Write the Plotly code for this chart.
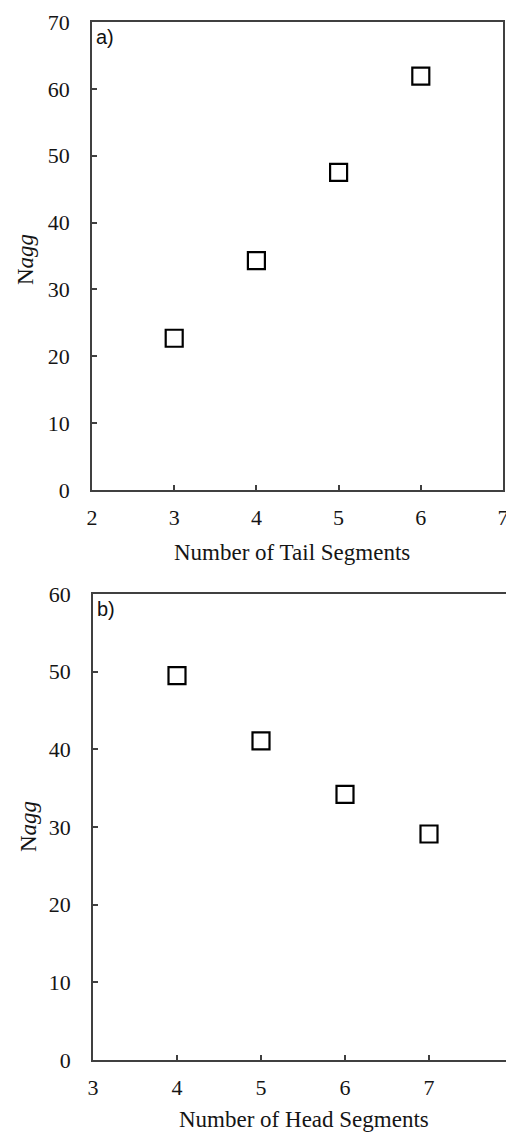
import plotly.graph_objects as go

# Panel a data
tail_segments = [3, 4, 5, 6]
nagg_tail = [22.7, 34.3, 47.5, 61.9]
# Panel b data
head_segments = [4, 5, 6, 7]
nagg_head = [49.5, 41.1, 34.2, 29.1]

xticks_a = [2, 3, 4, 5, 6, 7]
yticks_a = [0, 10, 20, 30, 40, 50, 60, 70]
xticks_b = [3, 4, 5, 6, 7, 8]
yticks_b = [0, 10, 20, 30, 40, 50, 60]

# page has an 8px body margin; size the figure to fit the 514x1132 window
OFF = 8
W, H = 514 - OFF, 1132 - OFF
serif = "Liberation Serif, Times New Roman, serif"
axcol = "#404040"
txtcol = "#151515"

marker = dict(symbol="square-open", size=17, color="black", line=dict(width=2.2, color="black"))

fig = go.Figure()
fig.add_trace(go.Scatter(x=tail_segments, y=nagg_tail, mode="markers", marker=marker,
                         xaxis="x", yaxis="y", showlegend=False))
fig.add_trace(go.Scatter(x=head_segments, y=nagg_head, mode="markers", marker=marker,
                         xaxis="x2", yaxis="y2", showlegend=False))

def px_x(p):
    return (p - OFF) / W

def px_y(p):
    return 1 - (p - OFF) / H

common = dict(showgrid=False, zeroline=False, showline=True, linecolor=axcol, linewidth=1.5,
              mirror=True, ticks="inside", ticklen=5, tickwidth=1.5, tickcolor=axcol,
              automargin=False,
              tickfont=dict(family=serif, size=22, color=txtcol))

fig.update_layout(
    template="none",
    width=W, height=H,
    margin=dict(l=0, r=0, t=0, b=0),
    paper_bgcolor="white", plot_bgcolor="white",
    xaxis=dict(domain=[px_x(92), px_x(503)], range=[2, 7], tickvals=xticks_a,
               anchor="y", ticklabelstandoff=7, **common),
    yaxis=dict(domain=[px_y(490), px_y(22)], range=[0, 70], tickvals=yticks_a,
               anchor="x", ticklabelstandoff=16, **common),
    xaxis2=dict(domain=[px_x(93), min(1.0, px_x(513))], range=[3, 8], tickvals=xticks_b,
                anchor="y2", ticklabelstandoff=7, **common),
    yaxis2=dict(domain=[px_y(1060), px_y(594)], range=[0, 60], tickvals=yticks_b,
                anchor="x2", ticklabelstandoff=16, **common),
)

ann = []
ann.append(dict(text="Number of Tail Segments", x=px_x(292), y=px_y(552), xref="paper", yref="paper",
                showarrow=False, xanchor="center", yanchor="middle",
                font=dict(family=serif, size=23, color=txtcol)))
ann.append(dict(text="Number of Head Segments", x=px_x(304), y=px_y(1119), xref="paper", yref="paper",
                showarrow=False, xanchor="center", yanchor="middle",
                font=dict(family=serif, size=23, color=txtcol)))
ann.append(dict(text="N<i>agg</i>", x=px_x(25), y=px_y(260), xref="paper", yref="paper",
                showarrow=False, xanchor="center", yanchor="middle", textangle=-90,
                font=dict(family=serif, size=23, color=txtcol)))
ann.append(dict(text="N<i>agg</i>", x=px_x(28), y=px_y(827), xref="paper", yref="paper",
                showarrow=False, xanchor="center", yanchor="middle", textangle=-90,
                font=dict(family=serif, size=23, color=txtcol)))
ann.append(dict(text="a)", x=px_x(94), y=px_y(24), xref="paper", yref="paper",
                showarrow=False, xanchor="left", yanchor="top",
                font=dict(family="Liberation Sans, Arial, sans-serif", size=20, color="#111")))
ann.append(dict(text="b)", x=px_x(95), y=px_y(596), xref="paper", yref="paper",
                showarrow=False, xanchor="left", yanchor="top",
                font=dict(family="Liberation Sans, Arial, sans-serif", size=20, color="#111")))
fig.update_layout(annotations=ann)

fig.write_html("out.html")
